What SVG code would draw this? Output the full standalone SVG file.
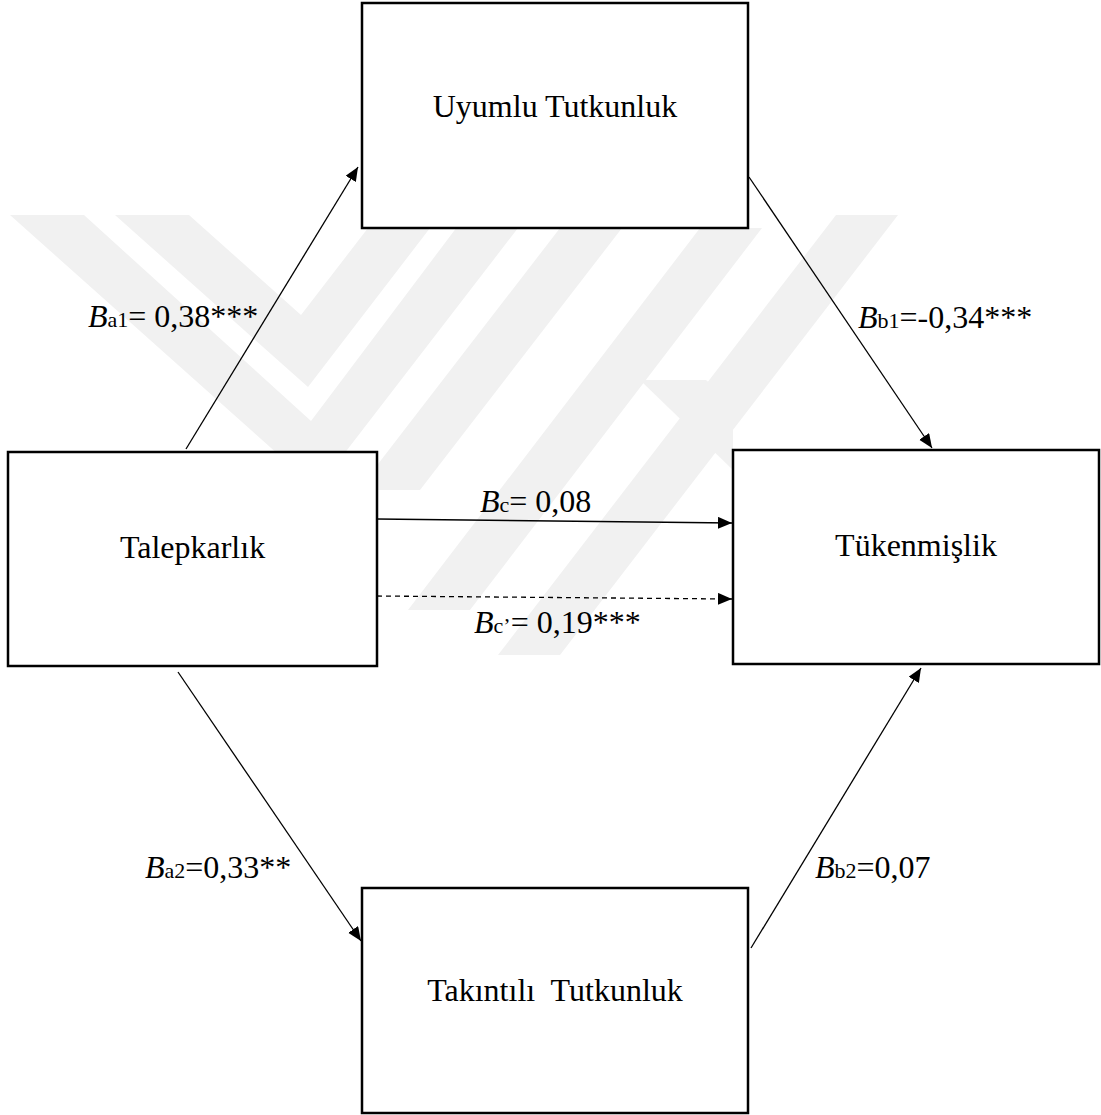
<svg xmlns="http://www.w3.org/2000/svg" width="1101" height="1115" viewBox="0 0 1101 1115">
<style>
.box{fill:#fff;stroke:#000;stroke-width:2.5}
.lbl{font-family:"Liberation Serif","Times New Roman",serif;font-size:32px;fill:#000}
.node{text-anchor:middle}
.sub{font-size:22px;font-style:normal}
.it{font-style:italic}
.edge{stroke:#000;stroke-width:1.3;fill:none}
.dash{stroke-dasharray:5 4}
.wm{fill:#f1f1f1}
</style>
<defs>
<marker id="arr" markerUnits="userSpaceOnUse" markerWidth="16" markerHeight="14" refX="14" refY="6" orient="auto">
<path d="M0,0 L14,6 L0,12 z" fill="#000"/>
</marker>
</defs>
<rect width="1101" height="1115" fill="#fff"/>
<g id="watermark">
<polygon class="wm" points="10,215 84,215 311,421 466,215 528,215 317,489"/>
<polygon class="wm" points="115,215 189,215 301,315 378,215 440,215 308,387"/>
<polygon class="wm" points="560,228 622,228 420,490 358,490"/>
<polygon class="wm" points="700,228 762,228 470,610 408,610"/>
<polygon class="wm" points="836,215 898,215 560,655 498,655"/>
<polygon class="wm" points="640,380 706,380 733,404 733,470"/>
</g>
<g id="connectors">
<line class="edge" x1="186" y1="449" x2="358" y2="167" marker-end="url(#arr)"/>
<line class="edge" x1="749" y1="177" x2="932" y2="448" marker-end="url(#arr)"/>
<line class="edge" x1="377" y1="519" x2="732" y2="523" marker-end="url(#arr)"/>
<line class="edge dash" x1="377" y1="596" x2="732" y2="599" marker-end="url(#arr)"/>
<line class="edge" x1="178" y1="672" x2="361" y2="941" marker-end="url(#arr)"/>
<line class="edge" x1="751" y1="948" x2="921" y2="668" marker-end="url(#arr)"/>
</g>
<g id="node-uyumlu">
<rect class="box" x="362" y="3" width="386" height="225"/>
<text class="lbl node" x="555" y="117">Uyumlu Tutkunluk</text>
</g>
<g id="node-talepkarlik">
<rect class="box" x="8" y="452" width="369" height="214"/>
<text class="lbl node" x="192.5" y="558">Talepkarlık</text>
</g>
<g id="node-tukenmislik">
<rect class="box" x="733" y="450" width="366" height="214"/>
<text class="lbl node" x="916" y="556">Tükenmişlik</text>
</g>
<g id="node-takintili">
<rect class="box" x="362" y="888" width="386" height="225"/>
<text class="lbl node" x="555" y="1001" xml:space="preserve">Takıntılı  Tutkunluk</text>
</g>
<g id="labels">
<text class="lbl" x="88" y="327"><tspan class="it">B</tspan><tspan class="sub">a1</tspan>= 0,38***</text>
<text class="lbl" x="858" y="328"><tspan class="it">B</tspan><tspan class="sub">b1</tspan>=-0,34***</text>
<text class="lbl" x="480" y="512"><tspan class="it">B</tspan><tspan class="sub">c</tspan>= 0,08</text>
<text class="lbl" x="474" y="633"><tspan class="it">B</tspan><tspan class="sub">c’</tspan>= 0,19***</text>
<text class="lbl" x="145" y="878"><tspan class="it">B</tspan><tspan class="sub">a2</tspan>=0,33**</text>
<text class="lbl" x="815" y="878"><tspan class="it">B</tspan><tspan class="sub">b2</tspan>=0,07</text>
</g>
</svg>
